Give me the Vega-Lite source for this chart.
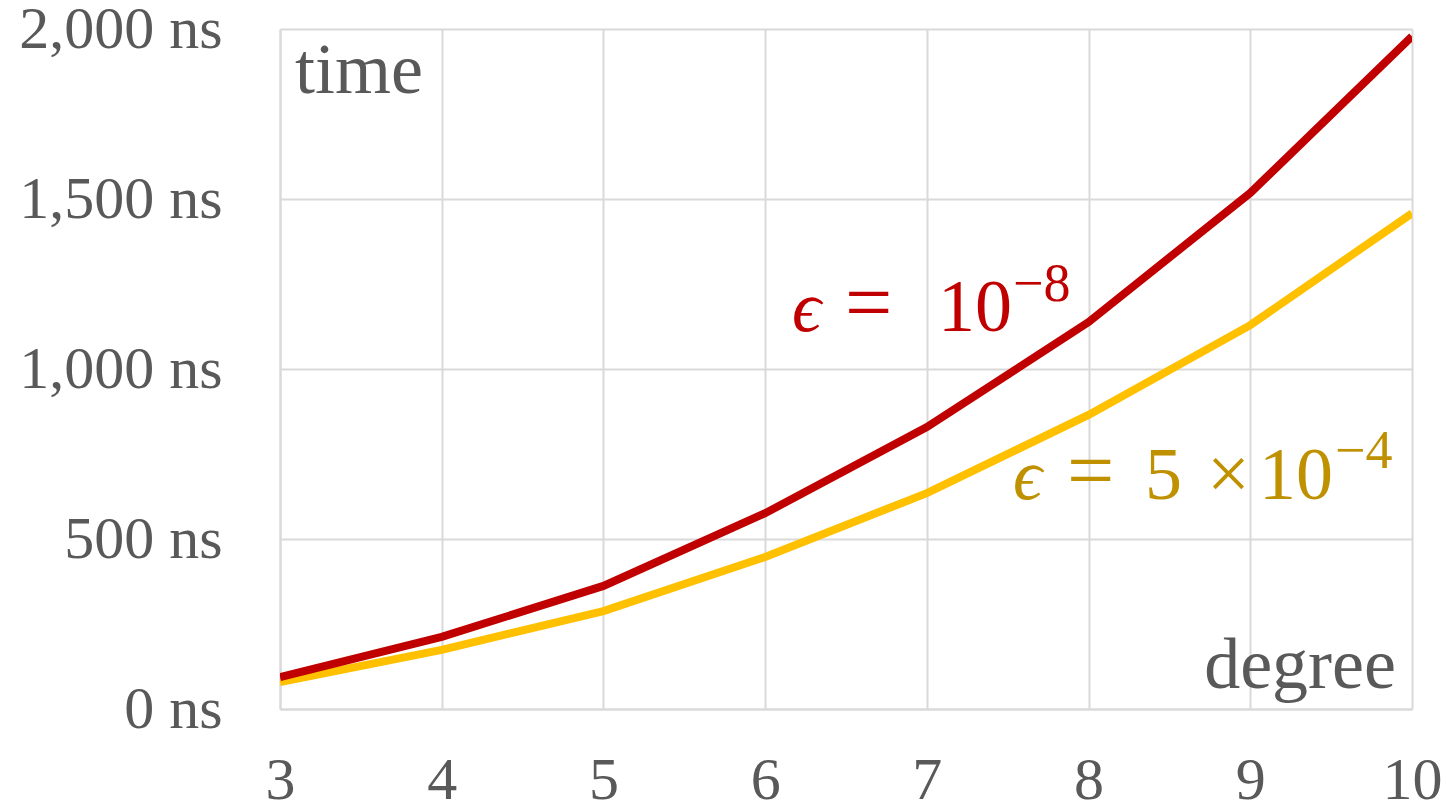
{
  "$schema": "https://vega.github.io/schema/vega-lite/v6.json",
  "width": 1132,
  "height": 680,
  "autosize": {"type": "none"},
  "padding": {"left": 280, "top": 29, "right": 34, "bottom": 101},
  "background": "white",
  "config": {
    "view": {"stroke": null},
    "font": "Liberation Serif",
    "axis": {
      "labelFont": "Liberation Serif",
      "labelFontSize": 60,
      "labelColor": "#595959",
      "labelLimit": 0,
      "domainColor": "#D9D9D9",
      "domainWidth": 2,
      "gridColor": "#D9D9D9",
      "gridWidth": 2,
      "ticks": false,
      "title": null
    }
  },
  "layer": [
    {
      "data": {
        "values": [
          {"degree": 3, "time": 79, "tolerance": "5e-4"},
          {"degree": 4, "time": 174, "tolerance": "5e-4"},
          {"degree": 5, "time": 288, "tolerance": "5e-4"},
          {"degree": 6, "time": 447, "tolerance": "5e-4"},
          {"degree": 7, "time": 635, "tolerance": "5e-4"},
          {"degree": 8, "time": 865, "tolerance": "5e-4"},
          {"degree": 9, "time": 1129, "tolerance": "5e-4"},
          {"degree": 10, "time": 1458, "tolerance": "5e-4"},
          {"degree": 3, "time": 94, "tolerance": "1e-8"},
          {"degree": 4, "time": 212, "tolerance": "1e-8"},
          {"degree": 5, "time": 362, "tolerance": "1e-8"},
          {"degree": 6, "time": 576, "tolerance": "1e-8"},
          {"degree": 7, "time": 829, "tolerance": "1e-8"},
          {"degree": 8, "time": 1138, "tolerance": "1e-8"},
          {"degree": 9, "time": 1518, "tolerance": "1e-8"},
          {"degree": 10, "time": 1978, "tolerance": "1e-8"}
        ]
      },
      "mark": {"type": "line", "strokeWidth": 8, "clip": true},
      "encoding": {
        "x": {
          "field": "degree",
          "type": "quantitative",
          "scale": {"domain": [3, 10], "nice": false, "zero": false},
          "axis": {"values": [3, 4, 5, 6, 7, 8, 9, 10], "format": "d", "labelPadding": 42, "labelFlush": false}
        },
        "y": {
          "field": "time",
          "type": "quantitative",
          "scale": {"domain": [0, 2000], "nice": false},
          "axis": {
            "values": [0, 500, 1000, 1500, 2000],
            "labelExpr": "format(datum.value, ',') + ' ns'",
            "labelPadding": 58
          }
        },
        "color": {
          "field": "tolerance",
          "type": "nominal",
          "scale": {"domain": ["5e-4", "1e-8"], "range": ["#FFC000", "#C00000"]},
          "legend": null
        }
      }
    },
    {
      "data": {"values": [{}]},
      "mark": {"type": "text", "text": "time", "fontSize": 72, "color": "#595959", "align": "left", "baseline": "alphabetic"},
      "encoding": {"x": {"datum": 3.093}, "y": {"datum": 1812}}
    },
    {
      "data": {"values": [{}]},
      "mark": {"type": "text", "text": "degree", "fontSize": 72, "color": "#595959", "align": "right", "baseline": "alphabetic"},
      "encoding": {"x": {"datum": 9.901}, "y": {"datum": 62}}
    },
    {
      "data": {"values": [{}]},
      "mark": {"type": "text", "text": "ϵ", "fontSize": 72, "fontStyle": "italic", "color": "#C00000", "align": "left", "baseline": "alphabetic"},
      "encoding": {"x": {"datum": 6.166}, "y": {"datum": 1112}}
    },
    {
      "data": {"values": [{}]},
      "mark": {"type": "text", "text": "=", "fontSize": 84, "color": "#C00000", "align": "left", "baseline": "alphabetic"},
      "encoding": {"x": {"datum": 6.494}, "y": {"datum": 1112}}
    },
    {
      "data": {"values": [{}]},
      "mark": {"type": "text", "text": "10", "fontSize": 74, "color": "#C00000", "align": "left", "baseline": "alphabetic"},
      "encoding": {"x": {"datum": 7.069}, "y": {"datum": 1112}}
    },
    {
      "data": {"values": [{}]},
      "mark": {"type": "text", "text": "−8", "fontSize": 54, "color": "#C00000", "align": "left", "baseline": "alphabetic"},
      "encoding": {"x": {"datum": 7.533}, "y": {"datum": 1200}}
    },
    {
      "data": {"values": [{}]},
      "mark": {"type": "text", "text": "ϵ", "fontSize": 72, "fontStyle": "italic", "color": "#BF9000", "align": "left", "baseline": "alphabetic"},
      "encoding": {"x": {"datum": 7.533}, "y": {"datum": 618}}
    },
    {
      "data": {"values": [{}]},
      "mark": {"type": "text", "text": "=", "fontSize": 84, "color": "#BF9000", "align": "left", "baseline": "alphabetic"},
      "encoding": {"x": {"datum": 7.867}, "y": {"datum": 618}}
    },
    {
      "data": {"values": [{}]},
      "mark": {"type": "text", "text": "5", "fontSize": 74, "color": "#BF9000", "align": "left", "baseline": "alphabetic"},
      "encoding": {"x": {"datum": 8.349}, "y": {"datum": 618}}
    },
    {
      "data": {"values": [{}]},
      "mark": {"type": "text", "text": "×", "fontSize": 76, "color": "#BF9000", "align": "left", "baseline": "alphabetic"},
      "encoding": {"x": {"datum": 8.732}, "y": {"datum": 618}}
    },
    {
      "data": {"values": [{}]},
      "mark": {"type": "text", "text": "10", "fontSize": 74, "color": "#BF9000", "align": "left", "baseline": "alphabetic"},
      "encoding": {"x": {"datum": 9.054}, "y": {"datum": 618}}
    },
    {
      "data": {"values": [{}]},
      "mark": {"type": "text", "text": "−4", "fontSize": 54, "color": "#BF9000", "align": "left", "baseline": "alphabetic"},
      "encoding": {"x": {"datum": 9.524}, "y": {"datum": 709}}
    }
  ]
}
